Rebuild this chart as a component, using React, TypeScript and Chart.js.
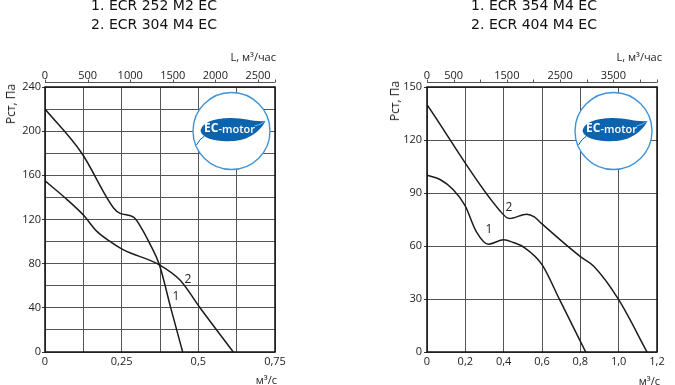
import React, { useEffect, useRef } from 'react';
import { Chart, registerables } from 'chart.js';

Chart.register(...registerables);

// ---------- Left chart data ----------
const leftTitles = ['1. ECR 252 M2 EC', '2. ECR 304 M4 EC'];
const leftFlow1 = [0, 0.12, 0.225, 0.245, 0.29, 0.315, 0.34, 0.373, 0.41, 0.449];
const leftPres1 = [220, 180, 130, 125.5, 122, 112, 99, 79, 40, 0];
const leftFlow2 = [0, 0.072, 0.125, 0.17, 0.213, 0.256, 0.373, 0.441, 0.503, 0.614];
const leftPres2 = [155, 138, 124, 109, 100, 92.5, 79, 65, 41, 0];
const leftXTickValues = [0, 0.25, 0.5, 0.75];
const leftXTickLabels = ['0', '0,25', '0,5', '0,75'];
const leftYTickValues = [0, 40, 80, 120, 160, 200, 240];
const leftTopTickMarks = [0, 500, 1000, 1500, 2000, 2500, 2700];
const leftTopTickValues = [0, 500, 1000, 1500, 2000, 2500];
const leftCurveLabels = ['1', '2'];
const leftCurveLabelX = [0.427, 0.466];
const leftCurveLabelY = [50, 66];

// ---------- Right chart data ----------
const rightTitles = ['1. ECR 354 M4 EC', '2. ECR 404 M4 EC'];
const rightFlow1 = [0, 0.07, 0.136, 0.198, 0.258, 0.32, 0.4, 0.45, 0.51, 0.6, 0.692, 0.828];
const rightPres1 = [100, 97.5, 92, 83, 68, 61, 63.5, 62, 59, 49.5, 29.6, 0];
const rightFlow2 = [0, 0.38, 0.43, 0.52, 0.56, 0.6, 0.8, 0.87, 1.0, 1.148];
const rightPres2 = [140, 80, 75.5, 78, 76.5, 72.5, 54, 48.5, 29.6, 0];
const rightXTickValues = [0, 0.2, 0.4, 0.6, 0.8, 1.0, 1.2];
const rightXTickLabels = ['0', '0,2', '0,4', '0,6', '0,8', '1,0', '1,2'];
const rightYTickValues = [0, 30, 60, 90, 120, 150];
const rightTopTickMarks = [0, 500, 1000, 1500, 2000, 2500, 3000, 3500, 4000, 4320];
const rightTopTickValues = [0, 500, 1500, 2500, 3500];
const rightCurveLabels = ['1', '2'];
const rightCurveLabelX = [0.323, 0.428];
const rightCurveLabelY = [69.5, 82];

const FONT = '"Open Sans", "Noto Sans", sans-serif';
const GRID = '#555555';
const CURVE = '#1c1c1c';

function has(list: number[], v: number) {
  return list.findIndex((t) => Math.abs(t - v) < 1e-6);
}

function drawLogo(ctx: CanvasRenderingContext2D, cx: number, cy: number) {
  ctx.save();
  ctx.beginPath();
  ctx.arc(cx, cy, 38.5, 0, Math.PI * 2);
  ctx.fillStyle = '#ffffff';
  ctx.fill();
  ctx.lineWidth = 1.4;
  ctx.strokeStyle = '#4193d6';
  ctx.stroke();
  ctx.translate(cx, cy);
  ctx.fillStyle = '#0c63ae';
  ctx.beginPath();
  ctx.moveTo(-31, 0);
  ctx.bezierCurveTo(-29, -10, -14, -13, 0, -13);
  ctx.bezierCurveTo(13, -13, 22, -9, 34, -10);
  ctx.bezierCurveTo(29, 0, 17, 10, 0, 10);
  ctx.bezierCurveTo(-14, 11, -29, 8, -31, 0);
  ctx.closePath();
  ctx.fill();
  ctx.strokeStyle = '#0c63ae';
  ctx.lineWidth = 1;
  ctx.beginPath();
  ctx.moveTo(-27, 5);
  ctx.quadraticCurveTo(-32, 8, -35, 14);
  ctx.stroke();
  ctx.strokeStyle = '#9cc9ec';
  ctx.lineWidth = 0.8;
  ctx.beginPath();
  ctx.moveTo(23, -5);
  ctx.quadraticCurveTo(29, -6, 33, -9.5);
  ctx.stroke();
  ctx.fillStyle = '#ffffff';
  ctx.textBaseline = 'middle';
  ctx.font = `bold 12px ${FONT}`;
  const w1 = ctx.measureText('EC').width;
  ctx.font = `600 11px ${FONT}`;
  const w2 = ctx.measureText('-motor').width;
  const x = -2 - (w1 + w2) / 2;
  ctx.textAlign = 'left';
  ctx.font = `bold 12px ${FONT}`;
  ctx.fillText('EC', x, -2);
  ctx.font = `600 11px ${FONT}`;
  ctx.fillText('-motor', x + w1, -1.5);
  ctx.restore();
}

function makeDecor(labels: string[], lx: number[], ly: number[]) {
  return {
    id: 'decor',
    afterDraw(chart: any) {
      const { ctx, chartArea: a, scales } = chart;
      const top = scales.x2;
      ctx.save();
      // top axis line with tick marks
      const yl = Math.round(a.top - 5) + 0.5;
      ctx.strokeStyle = '#555';
      ctx.lineWidth = 1;
      ctx.beginPath();
      ctx.moveTo(a.left, yl);
      ctx.lineTo(a.right, yl);
      top.ticks.forEach((t: any) => {
        const x = Math.round(top.getPixelForValue(t.value)) + 0.5;
        ctx.moveTo(x, yl);
        ctx.lineTo(x, yl - 3);
      });
      ctx.stroke();
      // frame
      ctx.strokeStyle = '#111';
      ctx.lineWidth = 1.5;
      ctx.strokeRect(a.left, a.top, a.right - a.left, a.bottom - a.top);
      // curve labels
      ctx.fillStyle = '#222';
      ctx.font = `12px ${FONT}`;
      ctx.textAlign = 'center';
      ctx.textBaseline = 'middle';
      labels.forEach((s, i) => {
        ctx.fillText(s, scales.x.getPixelForValue(lx[i]), scales.y.getPixelForValue(ly[i]));
      });
      ctx.restore();
      drawLogo(ctx, a.right - 43.5, a.top + 44);
    },
  };
}

function makeConfig(o: {
  f1: number[]; p1: number[]; f2: number[]; p2: number[];
  xMax: number; xStep: number; xVals: number[]; xLabels: string[];
  yMax: number; yStep: number; yVals: number[];
  topMax: number; topMarks: number[]; topVals: number[];
  yWidth: number; yPad: number; rightPad: number;
  labels: string[]; lx: number[]; ly: number[];
}): any {
  const tickFont = { family: FONT, size: 11 };
  return {
    type: 'line',
    data: {
      datasets: [
        {
          data: o.f1.map((x, i) => ({ x, y: o.p1[i] })),
          borderColor: CURVE, borderWidth: 1.5, pointRadius: 0,
          cubicInterpolationMode: 'monotone', fill: false,
        },
        {
          data: o.f2.map((x, i) => ({ x, y: o.p2[i] })),
          borderColor: CURVE, borderWidth: 1.5, pointRadius: 0,
          cubicInterpolationMode: 'monotone', fill: false,
        },
      ],
    },
    options: {
      responsive: false,
      animation: false,
      events: [],
      layout: { padding: { left: 0, right: o.rightPad, top: 0, bottom: 0 } },
      plugins: { legend: { display: false }, tooltip: { enabled: false } },
      scales: {
        x: {
          type: 'linear', position: 'bottom', min: 0, max: o.xMax,
          ticks: {
            stepSize: o.xStep, autoSkip: false, maxRotation: 0, padding: 3,
            color: '#222', font: tickFont,
            callback: (v: number) => { const i = has(o.xVals, v); return i >= 0 ? o.xLabels[i] : ''; },
          },
          grid: { color: GRID, lineWidth: 1, drawTicks: false },
          border: { display: false },
          afterFit: (s: any) => { s.height = 33; },
        },
        x2: {
          type: 'linear', position: 'top', min: 0, max: o.topMax,
          ticks: {
            autoSkip: false, maxRotation: 0, padding: 5,
            color: '#222', font: tickFont,
            callback: (v: number) => (has(o.topVals, v) >= 0 ? String(v) : ''),
          },
          afterBuildTicks: (s: any) => { s.ticks = o.topMarks.map((v) => ({ value: v })); },
          grid: { display: false, drawTicks: false },
          border: { display: false },
          afterFit: (s: any) => { s.height = 87; },
        },
        y: {
          type: 'linear', min: 0, max: o.yMax,
          ticks: {
            stepSize: o.yStep, autoSkip: false, padding: o.yPad,
            color: '#222', font: tickFont,
            callback: (v: number) => (has(o.yVals, v) >= 0 ? String(v) : ''),
          },
          grid: {
            color: GRID, lineWidth: 1, drawTicks: true, tickLength: 3,
            tickColor: (c: any) => (c.tick && has(o.yVals, c.tick.value) >= 0 ? '#333' : 'rgba(0,0,0,0)'),
          },
          border: { display: false },
          afterFit: (s: any) => { s.width = o.yWidth; },
        },
      },
    },
    plugins: [makeDecor(o.labels, o.lx, o.ly)],
  };
}

function ChartCanvas({ config, left, width }: { config: any; left: number; width: number }) {
  const ref = useRef<HTMLCanvasElement>(null);
  useEffect(() => {
    const chart = new Chart(ref.current as HTMLCanvasElement, config);
    return () => chart.destroy();
  }, []);
  return (
    <canvas
      ref={ref}
      width={width}
      height={385}
      style={{ position: 'absolute', left, top: 0, width, height: 385, display: 'block' }}
    />
  );
}

const textBase: React.CSSProperties = {
  position: 'absolute',
  whiteSpace: 'nowrap',
  color: '#222',
  fontFamily: FONT,
};

function Title({ lines, cx }: { lines: string[]; cx: number }) {
  return (
    <div
      style={{
        ...textBase,
        left: cx,
        top: -4,
        transform: 'translateX(-50%)',
        fontFamily: '"DejaVu Sans", Verdana, sans-serif',
        fontSize: 14,
        lineHeight: '19px',
        textAlign: 'center',
        color: '#111',
      }}
    >
      {lines.map((l) => (
        <div key={l}>{l}</div>
      ))}
    </div>
  );
}

function RightText({ text, x, y, size }: { text: string; x: number; y: number; size: number }) {
  return (
    <div style={{ ...textBase, left: x, top: y, fontSize: size, lineHeight: 1, transform: 'translate(-100%, -50%)' }}>
      {text}
    </div>
  );
}

function VText({ text, x, y }: { text: string; x: number; y: number }) {
  return (
    <div
      style={{
        ...textBase, left: x, top: y, fontSize: 12, lineHeight: 1,
        transform: 'translate(-50%, -50%) rotate(-90deg)',
      }}
    >
      {text}
    </div>
  );
}

export default function App() {
  const leftConfig = makeConfig({
    f1: leftFlow1, p1: leftPres1, f2: leftFlow2, p2: leftPres2,
    xMax: 0.75, xStep: 0.125, xVals: leftXTickValues, xLabels: leftXTickLabels,
    yMax: 240, yStep: 20, yVals: leftYTickValues,
    topMax: 2700, topMarks: leftTopTickMarks, topVals: leftTopTickValues,
    yWidth: 45, yPad: 1, rightPad: 62,
    labels: leftCurveLabels, lx: leftCurveLabelX, ly: leftCurveLabelY,
  });
  const rightConfig = makeConfig({
    f1: rightFlow1, p1: rightPres1, f2: rightFlow2, p2: rightPres2,
    xMax: 1.2, xStep: 0.2, xVals: rightXTickValues, xLabels: rightXTickLabels,
    yMax: 150, yStep: 30, yVals: rightYTickValues,
    topMax: 4320, topMarks: rightTopTickMarks, topVals: rightTopTickValues,
    yWidth: 90, yPad: 2, rightPad: 18,
    labels: rightCurveLabels, lx: rightCurveLabelX, ly: rightCurveLabelY,
  });
  return (
    <div style={{ position: 'absolute', left: 0, top: 0, width: 675, height: 385, background: '#fff', overflow: 'hidden' }}>
      <ChartCanvas config={leftConfig} left={0} width={337} />
      <ChartCanvas config={rightConfig} left={337} width={338} />
      <Title lines={leftTitles} cx={154} />
      <Title lines={rightTitles} cx={534} />
      <VText text="Рст, Па" x={11} y={104} />
      <VText text="Рст, Па" x={395} y={101} />
      <RightText text="L, м³/час" x={276} y={56} size={11} />
      <RightText text="L, м³/час" x={662} y={56} size={11} />
      <RightText text="м³/с" x={277} y={379} size={11} />
      <RightText text="м³/с" x={660} y={380} size={11} />
    </div>
  );
}
